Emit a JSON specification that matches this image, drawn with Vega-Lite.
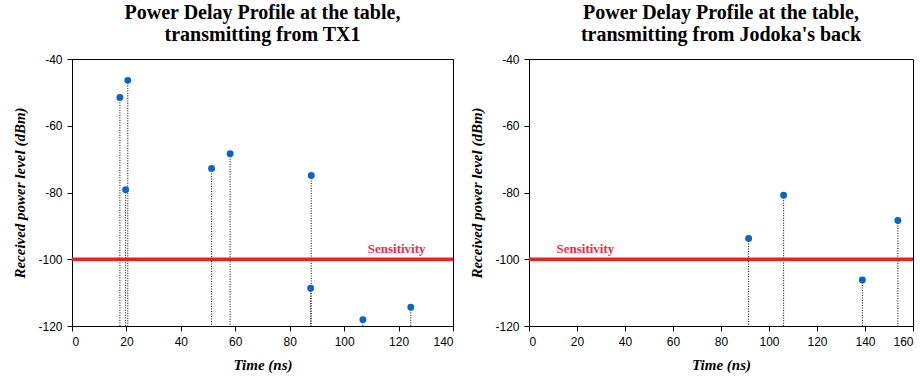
{
  "$schema": "https://vega.github.io/schema/vega-lite/v6.json",
  "padding": {"left": 12, "top": 2, "right": 0, "bottom": 2},
  "spacing": 76,
  "bounds": "flush",
  "background": "white",
  "config": {
    "view": {"stroke": "black", "strokeWidth": 1},
    "axis": {
      "grid": false,
      "domainColor": "black",
      "tickColor": "black",
      "labelColor": "black",
      "labelFont": "Liberation Sans",
      "labelFontSize": 12,
      "labelPadding": 5,
      "titleFont": "Liberation Serif",
      "titleFontStyle": "italic",
      "titleFontWeight": "bold",
      "titleFontSize": 15,
      "titleColor": "black",
      "tickSize": 5
    },
    "title": {
      "font": "Liberation Serif",
      "fontSize": 20,
      "fontWeight": "bold",
      "color": "black",
      "anchor": "middle",
      "lineHeight": 22,
      "offset": 8
    }
  },
  "datasets": {
    "tx1": [
      {"time": 17.6, "power": -51.5},
      {"time": 20.5, "power": -46.4},
      {"time": 19.7, "power": -79.2},
      {"time": 51.3, "power": -72.8},
      {"time": 58.1, "power": -68.4},
      {"time": 87.9, "power": -74.9},
      {"time": 87.7, "power": -108.7},
      {"time": 106.9, "power": -118.1},
      {"time": 124.5, "power": -114.4}
    ],
    "back": [
      {"time": 91.5, "power": -93.8},
      {"time": 106.1, "power": -80.8},
      {"time": 138.9, "power": -106.2},
      {"time": 153.7, "power": -88.4}
    ],
    "sens": [{"level": -100}]
  },
  "hconcat": [
    {
      "width": 381,
      "height": 267,
      "title": {"text": ["Power Delay Profile at the table,", "transmitting from TX1"]},
      "layer": [
        {
          "data": {"name": "tx1"},
          "mark": {"type": "rule", "color": "black", "strokeWidth": 1, "strokeDash": [1, 1.5]},
          "encoding": {
            "x": {"field": "time", "type": "quantitative", "scale": {"domain": [0, 140]}, "axis": {"values": [0, 20, 40, 60, 80, 100, 120, 140], "title": "Time (ns)", "titlePadding": 10}},
            "y": {"field": "power", "type": "quantitative", "scale": {"domain": [-120, -40]}, "axis": {"values": [-120, -100, -80, -60, -40], "labelExpr": "'-' + (-datum.value)", "title": "Received power level (dBm)", "titlePadding": 10}},
            "y2": {"datum": -120}
          }
        },
        {
          "data": {"name": "tx1"},
          "mark": {"type": "point", "filled": true, "size": 48, "color": "#0a64c8", "opacity": 1},
          "encoding": {
            "x": {"field": "time", "type": "quantitative"},
            "y": {"field": "power", "type": "quantitative"}
          }
        },
        {
          "data": {"name": "sens"},
          "mark": {"type": "rule", "color": "#e8202a", "strokeWidth": 3.5},
          "encoding": {"y": {"field": "level", "type": "quantitative"}}
        },
        {
          "data": {"values": [{"label": "Sensitivity", "time": 119.3, "power": -100}]},
          "mark": {"type": "text", "color": "#ee2a44", "font": "Liberation Serif", "fontWeight": "bold", "fontSize": 13, "baseline": "alphabetic", "dy": -6},
          "encoding": {
            "x": {"field": "time", "type": "quantitative"},
            "y": {"field": "power", "type": "quantitative"},
            "text": {"field": "label"}
          }
        }
      ]
    },
    {
      "width": 384,
      "height": 267,
      "title": {"text": ["Power Delay Profile at the table,", "transmitting from Jodoka's back"]},
      "layer": [
        {
          "data": {"name": "back"},
          "mark": {"type": "rule", "color": "black", "strokeWidth": 1, "strokeDash": [1, 1.5]},
          "encoding": {
            "x": {"field": "time", "type": "quantitative", "scale": {"domain": [0, 160]}, "axis": {"values": [0, 20, 40, 60, 80, 100, 120, 140, 160], "title": "Time (ns)", "titlePadding": 10}},
            "y": {"field": "power", "type": "quantitative", "scale": {"domain": [-120, -40]}, "axis": {"values": [-120, -100, -80, -60, -40], "labelExpr": "'-' + (-datum.value)", "title": "Received power level (dBm)", "titlePadding": 10}},
            "y2": {"datum": -120}
          }
        },
        {
          "data": {"name": "back"},
          "mark": {"type": "point", "filled": true, "size": 48, "color": "#0a64c8", "opacity": 1},
          "encoding": {
            "x": {"field": "time", "type": "quantitative"},
            "y": {"field": "power", "type": "quantitative"}
          }
        },
        {
          "data": {"name": "sens"},
          "mark": {"type": "rule", "color": "#e8202a", "strokeWidth": 3.5},
          "encoding": {"y": {"field": "level", "type": "quantitative"}}
        },
        {
          "data": {"values": [{"label": "Sensitivity", "time": 23.5, "power": -100}]},
          "mark": {"type": "text", "color": "#ee2a44", "font": "Liberation Serif", "fontWeight": "bold", "fontSize": 13, "baseline": "alphabetic", "dy": -6},
          "encoding": {
            "x": {"field": "time", "type": "quantitative"},
            "y": {"field": "power", "type": "quantitative"},
            "text": {"field": "label"}
          }
        }
      ]
    }
  ]
}
